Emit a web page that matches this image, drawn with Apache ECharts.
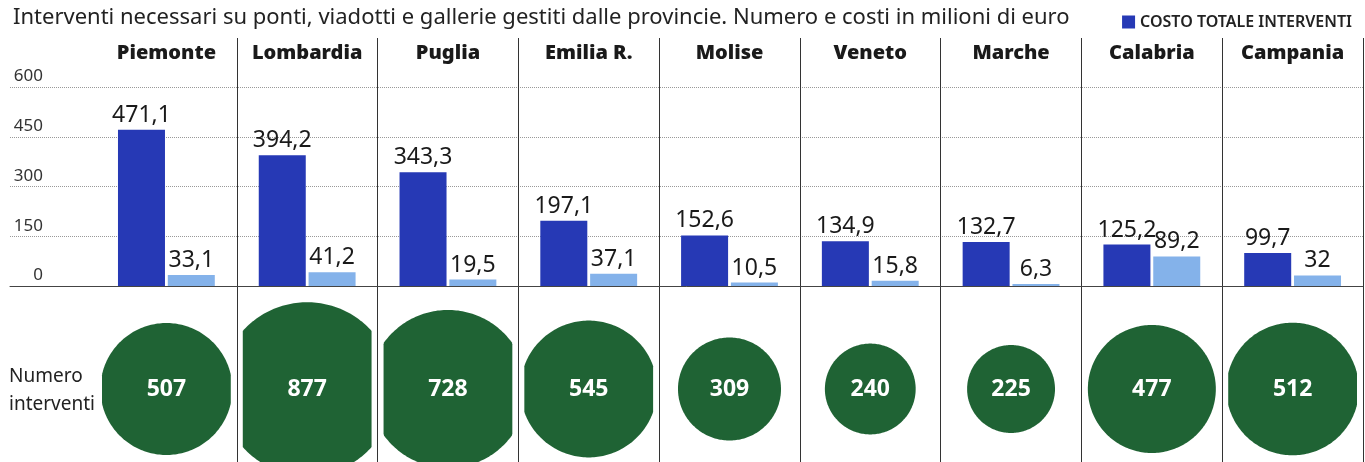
<!DOCTYPE html>
<html>
<head>
<meta charset="utf-8">
<script src="https://cdn.jsdelivr.net/npm/echarts@6/dist/echarts.min.js"></script>
<style>html,body{margin:0;padding:0;background:#fff;}#c{width:1365px;height:462px;}</style>
</head>
<body>
<div id="c"></div>
<script>
const categories = ['Piemonte','Lombardia','Puglia','Emilia R.','Molise','Veneto','Marche','Calabria','Campania'];
const costoTotale = [471.1, 394.2, 343.3, 197.1, 152.6, 134.9, 132.7, 125.2, 99.7];
const costoSecondario = [33.1, 41.2, 19.5, 37.1, 10.5, 15.8, 6.3, 89.2, 32];
const numeroInterventi = [507, 877, 728, 545, 309, 240, 225, 477, 512];
const yMin = 0, yMax = 600, yStep = 150;

const FONT = 'Noto Sans';
const fmt = v => String(v).replace('.', ',');
const chart = echarts.init(document.getElementById('c'));

chart.setOption({
  animation: false,
  backgroundColor: '#fff',
  title: {
    text: 'Interventi necessari su ponti, viadotti e gallerie gestiti dalle provincie. Numero e costi in milioni di euro',
    left: 8, top: 2,
    textStyle: {fontFamily: FONT, fontSize: 22, fontWeight: 'normal', color: '#222'}
  },
  legend: {
    data: ['COSTO TOTALE INTERVENTI'],
    right: 8, top: 9,
    icon: 'rect', itemWidth: 13, itemHeight: 13, itemGap: 10,
    textStyle: {fontFamily: FONT, fontSize: 16, fontWeight: 600, color: '#222'}
  },
  grid: [
    {left: 10, right: 2, top: 87, bottom: 176},
    {left: 96, right: 2, top: 87, bottom: 176},
    {left: 96, right: 2, top: 38, bottom: 0},
    {left: 96, right: 2, top: 316, bottom: 0}
  ],
  xAxis: [
    {type: 'value', gridIndex: 0, min: 0, max: 1, axisLabel: {show: false}, axisTick: {show: false}, splitLine: {show: false},
     axisLine: {show: true, lineStyle: {color: '#444', width: 1}}},
    {type: 'category', gridIndex: 1, data: categories, axisLabel: {show: false}, axisTick: {show: false}, axisLine: {show: false}, splitLine: {show: false}},
    {type: 'category', gridIndex: 2, data: categories, position: 'top', axisTick: {show: false}, axisLine: {show: false},
     axisLabel: {show: true, interval: 0, hideOverlap: false, inside: true, margin: 5, verticalAlign: 'top', fontFamily: FONT, fontSize: 20, fontWeight: 900, color: '#1a1a1a'},
     splitLine: {show: true, interval: 0, showMinLine: false, showMaxLine: true, lineStyle: {color: '#333', width: 1}}},
    {type: 'category', gridIndex: 3, data: categories, axisLabel: {show: false}, axisTick: {show: false}, axisLine: {show: false}, splitLine: {show: false}}
  ],
  yAxis: [
    {type: 'value', gridIndex: 0, min: yMin, max: yMax, interval: yStep,
     axisLine: {show: false}, axisTick: {show: false},
     axisLabel: {show: true, inside: true, margin: 33, align: 'right', verticalAlign: 'bottom', padding: [0, 0, 2, 0], fontFamily: FONT, fontSize: 17, color: '#333'},
     splitLine: {show: true, lineStyle: {type: 'dotted', color: '#999', width: 1}}},
    {type: 'value', gridIndex: 1, min: yMin, max: yMax, show: false},
    {type: 'value', gridIndex: 2, min: 0, max: 1, show: false},
    {type: 'value', gridIndex: 3, min: 0, max: 1, show: false}
  ],
  graphic: [
    {type: 'text', left: 9, top: 363, style: {text: 'Numero\ninterventi', fontFamily: FONT, fontSize: 19, lineHeight: 28, fill: '#222'}}
  ],
  series: [
    {
      name: 'COSTO TOTALE INTERVENTI', type: 'bar', xAxisIndex: 1, yAxisIndex: 1,
      data: costoTotale, barWidth: 47, barGap: '6%',
      itemStyle: {color: '#2639b5'},
      label: {show: true, position: 'top', distance: 3, fontFamily: FONT, fontSize: 23, color: '#1a1a1a', formatter: p => fmt(p.value)}
    },
    {
      name: 'Costo (seconda serie)', type: 'bar', xAxisIndex: 1, yAxisIndex: 1,
      data: costoSecondario, barWidth: 47, barGap: '6%',
      itemStyle: {color: '#84b2ea'},
      label: {show: true, position: 'top', distance: 3, fontFamily: FONT, fontSize: 23, color: '#1a1a1a', formatter: p => fmt(p.value)}
    },
    {
      name: 'Numero interventi', type: 'custom', xAxisIndex: 3, yAxisIndex: 3,
      data: numeroInterventi.map((v, i) => [i, v]),
      encode: {x: 0},
      renderItem: function (params, api) {
        const c = api.coord([api.value(0), 0.5]);
        const band = api.size([1, 0])[0];
        const v = api.value(1);
        const r = 2.93 * Math.sqrt(v);
        const hw = band / 2 - 6;
        const pts = [];
        const N = 240;
        for (let k = 0; k < N; k++) {
          const a = k / N * 2 * Math.PI;
          let x = r * Math.cos(a);
          if (x > hw) x = hw;
          if (x < -hw) x = -hw;
          pts.push([c[0] + x, c[1] + r * Math.sin(a)]);
        }
        return {
          type: 'group',
          children: [
            {type: 'polygon', shape: {points: pts}, style: {fill: '#1f6334'}},
            {type: 'text', style: {text: String(v), x: c[0], y: c[1], align: 'center', verticalAlign: 'middle', fill: '#fff', font: 'bold 23px "Noto Sans"'}}
          ]
        };
      }
    }
  ]
});
</script>
</body>
</html>
